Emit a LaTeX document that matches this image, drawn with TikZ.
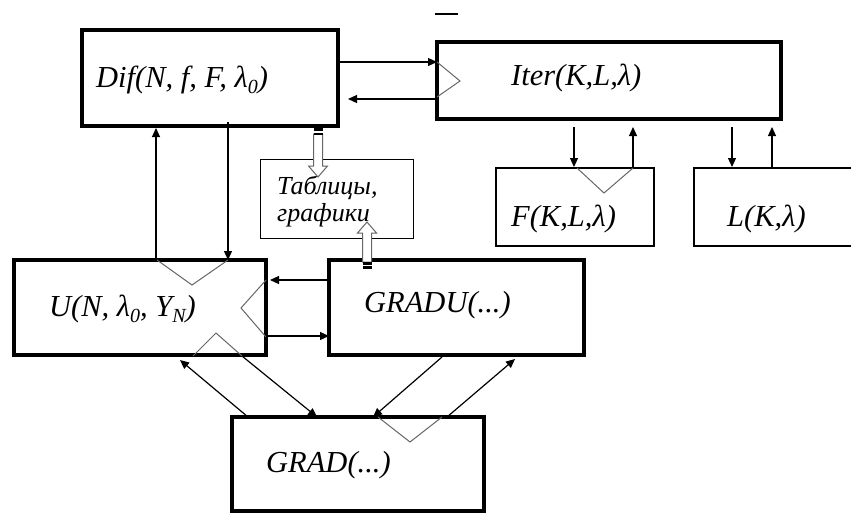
\documentclass[tikz,border=0pt]{standalone}
\usepackage{fontspec}
\setmainfont{Liberation Serif}
\usetikzlibrary{arrows.meta}
\newcommand{\lowi}[1]{\raisebox{-0.22em}{\fontsize{20}{20}\selectfont #1}}
\begin{document}
\begin{tikzpicture}[x=1pt,y=-1pt,
  bigbox/.style={draw, line width=4pt, inner sep=0pt, outer sep=0pt},
  midbox/.style={draw, line width=2.5pt, inner sep=0pt, outer sep=0pt},
  thinbox/.style={draw, line width=1pt, inner sep=0pt, outer sep=0pt},
  lbl/.style={anchor=base west, inner sep=0pt, font=\fontsize{30.5}{33}\selectfont\itshape},
  tlbl/.style={anchor=base west, inner sep=0pt, font=\fontsize{26}{28}\selectfont\itshape},
  arr/.style={line width=1.2pt, -{Triangle[length=9pt,width=8pt]}},
  tri/.style={draw=black!60, line width=1pt},
  hollow/.style={draw=black!60, fill=white, line width=1pt}]
\useasboundingbox (0,0) rectangle (851,515);

% boxes
\node[bigbox, minimum width=256pt, minimum height=96pt] (dif) at (210,78) {};
\node[bigbox, minimum width=344pt, minimum height=77pt] (iter) at (609,80.5) {};
\node[midbox, minimum width=158pt, minimum height=78pt] (f) at (575,207) {};
\node[inner sep=0pt, outer sep=0pt, minimum width=166pt, minimum height=78pt] (l) at (777,207) {};
\draw[line width=2.5pt] (851,168) -- (694,168) -- (694,246) -- (851,246);
\node[thinbox, minimum width=153pt, minimum height=79pt] (tab) at (336.5,198.5) {};
\node[bigbox, minimum width=252pt, minimum height=95pt] (u) at (140,307.5) {};
\node[bigbox, minimum width=255pt, minimum height=95pt] (gu) at (456.5,307.5) {};
\node[bigbox, minimum width=252pt, minimum height=94pt] (g) at (358,464) {};

% labels
\node[lbl] (difT) at (96,87) {Dif(N, f, F, λ\lowi{0})};
\node[lbl] (iterT) at (511,85) {Iter(K,L,λ)};
\node[lbl] (fT) at (511,226) {F(K,L,λ)};
\node[lbl] (lT) at (727,226) {L(K,λ)};
\node[lbl] (uT) at (49,316) {U(N, λ\lowi{0}, Y\lowi{N})};
\node[lbl] (guT) at (364,312) {GRADU(...)};
\node[lbl] (gT) at (266,472) {GRAD(...)};
\node[tlbl] (tabT1) at (277,194) {Таблицы,};
\node[tlbl] (tabT2) at (277,221) {графики};

% small dash at top
\draw[line width=2pt] (435,14) -- (458,14);

% column/row helper coordinates
\coordinate (x156) at (156,0);
\coordinate (x228) at (228,0);
\coordinate (x574) at (574,0);
\coordinate (x633) at (633,0);
\coordinate (x732) at (732,0);
\coordinate (x772) at (772,0);
\coordinate (y62) at (0,62);
\coordinate (y99) at (0,99);
\coordinate (y280) at (0,280);
\coordinate (y336) at (0,336);

% triangles (connector artefacts)
\draw[tri] (437,62) -- (460,81) -- (437,97);
\draw[tri] (577,168) -- (604,193) -- (633,168);
\draw[tri] (157,260) -- (192,285) -- (228,260);
\draw[tri] (266,280) -- (241,308) -- (266,337);
\draw[tri] (193,356) -- (216,333) -- (242,356);
\draw[tri] (378,417) -- (410,442) -- (442,417);

% Dif <-> Iter
\draw[arr] (dif.east |- y62) -- (iter.west |- y62);
\draw[arr] (iter.west |- y99) -- ([xshift=10pt]dif.east |- y99);

% Iter <-> F, L
\draw[arr] ([yshift=-8pt]iter.south -| x574) -- ([yshift=1pt]f.north -| x574);
\draw[arr] ([yshift=1pt]f.north -| x633) -- ([yshift=-8pt]iter.south -| x633);
\draw[arr] ([yshift=-8pt]iter.south -| x732) -- ([yshift=1pt]l.north -| x732);
\draw[arr] (l.north -| x772) -- ([yshift=-8pt]iter.south -| x772);

% Dif <-> U
\draw[arr] (u.north -| x156) -- ([yshift=-2pt]dif.south -| x156);
\draw[arr] ([yshift=4pt]dif.south -| x228) -- (u.north -| x228);

% U <-> GRADU
\draw[arr] (gu.west |- y280) -- ([xshift=4pt]u.east |- y280);
\draw[arr] (u.east |- y336) -- (gu.west |- y336);

% U, GRADU <-> GRAD
\coordinate (gUL) at (248,417);
\coordinate (uBL) at (180,360);
\coordinate (uBR) at (242,356);
\coordinate (gUM) at (317,417);
\coordinate (guB) at (442,357);
\coordinate (gUR) at (373,417);
\coordinate (gRR) at (447,417);
\coordinate (guBR) at (515,359);
\draw[arr] (gUL) -- (uBL);
\draw[arr] (uBR) -- (gUM);
\draw[arr] (guB) -- (gUR);
\draw[arr] (gRR) -- (guBR);

% hollow arrows into the table box
\draw[hollow] (313.5,134) -- (313.5,166) -- (308.5,166) -- (318,177) -- (327.5,166) -- (322.5,166) -- (322.5,134) -- cycle;
\fill (313.5,128) rectangle (322.5,130.5);
\fill (313.5,132.5) rectangle (322.5,135);
\draw[hollow] (362.5,262) -- (362.5,233) -- (357.5,233) -- (367,222) -- (376.5,233) -- (371.5,233) -- (371.5,262) -- cycle;
\fill (362.5,262) rectangle (371.5,264.5);
\fill (362.5,266) rectangle (371.5,268.5);
\end{tikzpicture}
\end{document}
